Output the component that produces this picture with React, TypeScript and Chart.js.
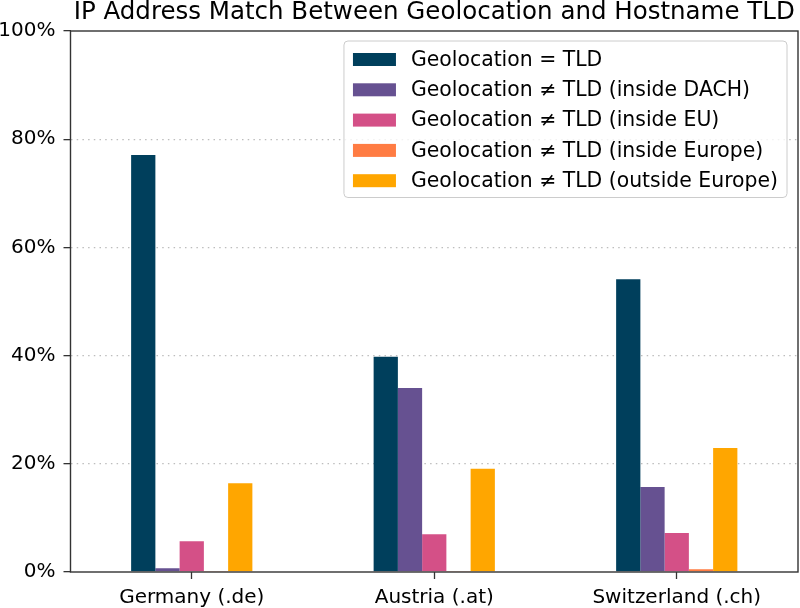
import { useEffect, useRef } from "react";
import { Chart, registerables } from "chart.js";

Chart.register(...registerables);

// values (percent of IP addresses)
const countries = ["Germany (.de)", "Austria (.at)", "Switzerland (.ch)"];
const seriesLabels = [
  "Geolocation = TLD",
  "Geolocation \u2260 TLD (inside DACH)",
  "Geolocation \u2260 TLD (inside EU)",
  "Geolocation \u2260 TLD (inside Europe)",
  "Geolocation \u2260 TLD (outside Europe)",
];
const sameTld = [77.1, 39.8, 54.1];
const insideDach = [0.7, 34.0, 15.7];
const insideEu = [5.7, 7.0, 7.2];
const insideEurope = [0.1, 0.1, 0.5];
const outsideEurope = [16.4, 19.1, 22.9];
const seriesColors = ["#003f5c", "#665191", "#d45087", "#ff7c43", "#ffa600"];
const yMax = 100;
const yStep = 20;

const FONT = "'DejaVu Sans', sans-serif";

// matplotlib-like frame: all four spines
const framePlugin = {
  id: "frame",
  afterDatasetsDraw(chart: Chart) {
    const { ctx, chartArea } = chart;
    ctx.save();
    ctx.strokeStyle = "#333333";
    ctx.lineWidth = 1.4;
    ctx.strokeRect(chartArea.left, chartArea.top, chartArea.right - chartArea.left, chartArea.bottom - chartArea.top);
    ctx.restore();
  },
};

// boxed legend inside the top right of the plot
const legendPlugin = {
  id: "boxLegend",
  afterDraw(chart: Chart) {
    const { ctx, chartArea } = chart;
    const sets = chart.data.datasets;
    ctx.save();
    ctx.font = `20.4px ${FONT}`;
    const textW = Math.max(...sets.map((d) => ctx.measureText(String(d.label)).width));
    const rowH = 30.3;
    const w = 68 + textW + 8;
    const h = rowH * sets.length + 5;
    const x = chartArea.right - 11 - w;
    const y = chartArea.top + 10;
    ctx.beginPath();
    ctx.roundRect(x, y, w, h, 4);
    ctx.fillStyle = "rgba(255,255,255,0.8)";
    ctx.fill();
    ctx.strokeStyle = "#cccccc";
    ctx.lineWidth = 1;
    ctx.stroke();
    ctx.textBaseline = "middle";
    sets.forEach((d, i) => {
      const cy = y + 18.5 + i * rowH;
      ctx.fillStyle = d.backgroundColor as string;
      ctx.fillRect(x + 9, cy - 6.5, 43, 13);
      ctx.fillStyle = "#000000";
      ctx.fillText(String(d.label), x + 67, cy + 1);
    });
    ctx.restore();
  },
};

export default function App() {
  const canvasRef = useRef<HTMLCanvasElement>(null);
  const chartRef = useRef<Chart | null>(null);

  useEffect(() => {
    if (!canvasRef.current) return;
    const values = [sameTld, insideDach, insideEu, insideEurope, outsideEurope];

    chartRef.current?.destroy();
    chartRef.current = new Chart(canvasRef.current, {
      type: "bar",
      data: {
        labels: countries,
        datasets: values.map((v, i) => ({
          label: seriesLabels[i],
          data: v,
          backgroundColor: seriesColors[i],
          borderWidth: 0,
          categoryPercentage: 0.5,
          barPercentage: 1,
        })),
      },
      plugins: [framePlugin, legendPlugin],
      options: {
        responsive: true,
        maintainAspectRatio: false,
        animation: false,
        layout: { padding: { top: -2.3, right: 2, bottom: 0, left: 0 } },
        plugins: {
          legend: { display: false },
          tooltip: { enabled: false },
          title: {
            display: true,
            fullSize: false,
            text: "IP Address Match Between Geolocation and Hostname TLD",
            color: "#000000",
            font: { family: FONT, size: 24.5, weight: "normal" },
            padding: { top: 0, bottom: 3.9 },
          },
        },
        scales: {
          x: {
            afterFit: (scale) => {
              scale.height = 36;
            },
            grid: {
              offset: false,
              drawOnChartArea: false,
              drawTicks: true,
              tickLength: 7,
              tickColor: "#333333",
              tickWidth: 1.3,
            },
            border: { display: false },
            ticks: { color: "#000000", padding: 7, font: { family: FONT, size: 20 } },
          },
          y: {
            min: 0,
            max: yMax,
            afterFit: (scale) => {
              scale.width = 70.5;
            },
            grid: {
              color: (c) =>
                c.tick && (c.tick.value === 0 || c.tick.value === yMax) ? "rgba(0,0,0,0)" : "#bdbdbd",
              lineWidth: 1.3,
              tickLength: 7,
              tickColor: "#333333",
              tickWidth: 1.3,
            },
            border: { display: false, dash: [1.5, 4.2] },
            ticks: {
              stepSize: yStep,
              color: "#000000",
              padding: 8,
              font: { family: FONT, size: 20 },
              callback: (v) => `${v}%`,
            },
          },
        },
      },
    });

    return () => {
      chartRef.current?.destroy();
    };
  }, []);

  return (
    <div style={{ position: "absolute", left: 0, top: 0, width: "800px", height: "608px", background: "#fff" }}>
      <canvas ref={canvasRef} />
    </div>
  );
}
